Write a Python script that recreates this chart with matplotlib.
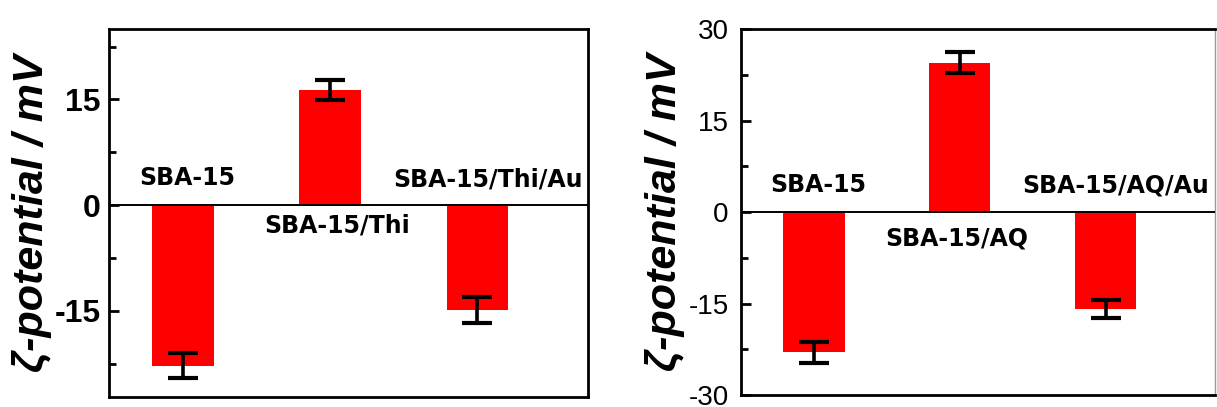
import matplotlib
matplotlib.use('Agg')
import matplotlib.pyplot as plt
import numpy as np

plt.rcParams['font.family'] = ['Liberation Sans', 'DejaVu Sans']
plt.rcParams['axes.unicode_minus'] = False

# left panel: Thi series
thi_names = ['SBA-15', 'SBA-15/Thi', 'SBA-15/Thi/Au']
thi_vals = [-22.8, 16.3, -14.9]
thi_err = [1.8, 1.4, 1.9]
thi_label_y = [3.8, -2.9, 3.6]

# right panel: AQ series
aq_names = ['SBA-15', 'SBA-15/AQ', 'SBA-15/AQ/Au']
aq_vals = [-23.0, 24.5, -15.9]
aq_err = [1.7, 1.7, 1.5]
aq_label_y = [4.4, -4.25, 4.4]

W, H = 1217, 407
fig = plt.figure(figsize=(W / 100, H / 100), dpi=100)

ax1 = fig.add_axes([109 / W, 1 - 396.7 / H, 479 / W, 367.7 / H])
ax2 = fig.add_axes([741 / W, 1 - 395 / H, 474 / W, 365.7 / H])


def draw(ax, names, vals, err, label_y, ylim, bold_ticks, label_dx):
    x = np.arange(1, len(vals) + 1)
    ax.bar(x, vals, width=0.42, color='#ff0000', zorder=2)
    ax.errorbar(x, vals, yerr=err, fmt='none', ecolor='black', elinewidth=2.6,
                capsize=11, capthick=3, zorder=3)
    ax.axhline(0, color='black', lw=1.4, zorder=4)
    for xi, n, ly, dx in zip(x, names, label_y, label_dx):
        ax.text(xi + dx, ly, n, ha='center', va='center', fontsize=17,
                fontweight='bold', family='DejaVu Sans', zorder=5,
                clip_on=False)
    ax.set_xlim(0.5, 3.75)
    ax.set_xticks([])
    ax.set_yticks([-30, -15, 0, 15, 30])
    ax.set_yticks(np.arange(-22.5, 30, 15), minor=True)
    ax.set_ylim(*ylim)
    if bold_ticks:
        ax.tick_params(axis='y', which='major', direction='in', length=7,
                       width=2, labelsize=23, pad=6)
    else:
        ax.tick_params(axis='y', which='major', direction='in', length=7,
                       width=2, labelsize=20, pad=9)
    ax.tick_params(axis='y', which='minor', direction='in', length=5, width=2)
    for lab in ax.get_yticklabels():
        lab.set_fontweight('bold' if bold_ticks else 'normal')
    for s in ax.spines.values():
        s.set_linewidth(2)
    ax.set_ylabel('ζ-potential / mV', fontsize=31, fontweight='bold',
                  fontstyle='italic', labelpad=2)


draw(ax1, thi_names, thi_vals, thi_err, thi_label_y, (-27.2, 25), True,
     [0.03, 0.045, 0.07])
draw(ax2, aq_names, aq_vals, aq_err, aq_label_y, (-30, 30), False,
     [0.03, -0.02, 0.07])
ax2.spines['right'].set_color('#999999')
ax2.spines['right'].set_linewidth(1)

fig.savefig('out.png', dpi=100)
